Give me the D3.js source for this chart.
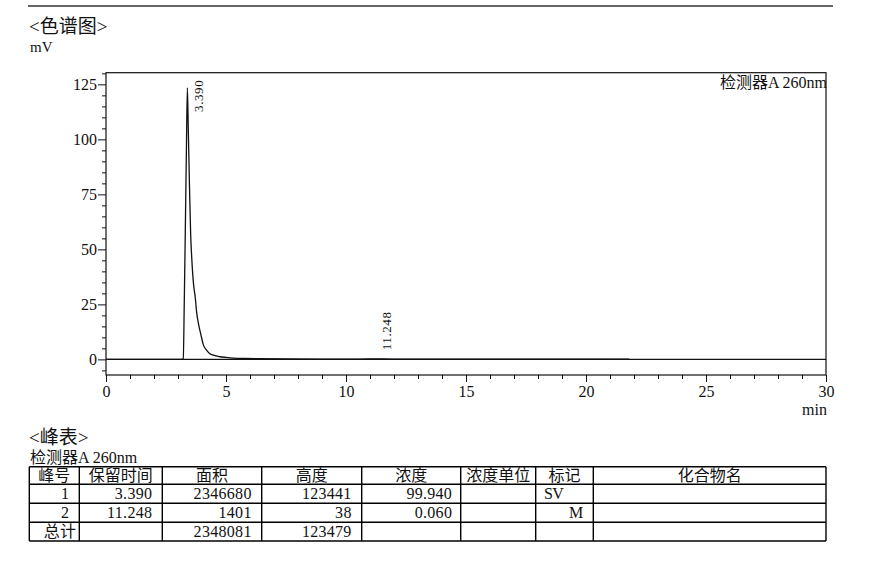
<!DOCTYPE html>
<html>
<head>
<meta charset="utf-8">
<script src="https://cdn.jsdelivr.net/npm/d3@7"></script>
<style>
  html, body { margin: 0; padding: 0; background: #fff; }
  svg { display: block; }
  text { font-family: "Liberation Serif", "Noto Sans CJK SC", serif; fill: #111; }
</style>
</head>
<body>
<svg id="chart" width="879" height="585"></svg>
<script>
// ---------- data ----------
const times  = [0, 1.0, 2.0, 3.0, 3.15, 3.22, 3.26, 3.30, 3.35, 3.39, 3.43, 3.48, 3.53, 3.57, 3.64, 3.72, 3.78, 3.85, 3.92, 3.99, 4.05, 4.19, 4.33, 4.47, 4.75, 5.0, 5.3, 5.8, 6.4, 7.5, 9.0, 10.5, 11.0, 11.248, 11.5, 12.0, 14.0, 17.0, 20.0, 21.8];
const signal = [0, 0, 0, 0, 0.02, 0.3, 25, 55, 95, 123.4, 104, 78, 56, 46.7, 35, 28, 21, 16.4, 12.8, 9.5, 6.8, 4.2, 2.6, 1.9, 1.2, 0.9, 0.6, 0.4, 0.3, 0.2, 0.15, 0.15, 0.2, 0.25, 0.2, 0.15, 0.12, 0.1, 0.08, 0.05];

const peakTimes   = [3.390, 11.248];
const peakHeights = [123.441, 0.038];
const peakLabels  = ["3.390", "11.248"];

const yMajorTicks = [0, 25, 50, 75, 100, 125];
const xMajorTicks = [0, 5, 10, 15, 20, 25, 30];

const tableHeaders = ["峰号", "保留时间", "面积", "高度", "浓度", "浓度单位", "标记", "化合物名"];
const peakNumbers  = ["1", "2"];
const retTimes     = ["3.390", "11.248"];
const areas        = ["2346680", "1401"];
const heights      = ["123441", "38"];
const concs        = ["99.940", "0.060"];
const concUnits    = ["", ""];
const marks        = ["SV", "   M"];
const compounds    = ["", ""];
const totalLabel   = "总计";
const totalArea    = "2348081";
const totalHeight  = "123479";

// ---------- layout ----------
const svg = d3.select("#chart");
const L = 106, R = 826, T = 72.7, B = 375;

const x = d3.scaleLinear().domain([0, 30]).range([L, R]);
const y = d3.scaleLinear().domain([-7.1, 130.3]).range([B, T]);

// top rule
svg.append("line").attr("x1", 28).attr("x2", 833).attr("y1", 6).attr("y2", 6)
  .attr("stroke", "#666").attr("stroke-width", 2);

// titles
svg.append("text").attr("x", 29).attr("y", 33).style("font-size", "19px").text("<色谱图>");
svg.append("text").attr("x", 30).attr("y", 52).style("font-size", "15px").text("mV");

// y axis
const yMinor = d3.range(-5, 131, 5).filter(v => v % 25 !== 0);
svg.append("g").attr("transform", `translate(${L},0)`)
  .call(d3.axisLeft(y).tickValues(yMinor).tickSize(4).tickFormat(""))
  .call(g => g.select(".domain").remove())
  .call(g => g.selectAll("line").attr("stroke", "#111"));
svg.append("g").attr("transform", `translate(${L},0)`)
  .call(d3.axisLeft(y).tickValues(yMajorTicks).tickSize(8).tickPadding(1))
  .call(g => g.select(".domain").remove())
  .call(g => g.selectAll("line").attr("stroke", "#111"))
  .call(g => g.selectAll("text").style("font-size", "16px")
      .style("font-family", "'Liberation Serif', serif").attr("fill", "#111"));

// x axis
const xMinor = d3.range(0, 31, 1).filter(v => v % 5 !== 0);
svg.append("g").attr("transform", `translate(0,${B})`)
  .call(d3.axisBottom(x).tickValues(xMinor).tickSize(4).tickFormat(""))
  .call(g => g.select(".domain").remove())
  .call(g => g.selectAll("line").attr("stroke", "#111"));
svg.append("g").attr("transform", `translate(0,${B})`)
  .call(d3.axisBottom(x).tickValues(xMajorTicks).tickSize(7).tickPadding(4))
  .call(g => g.select(".domain").remove())
  .call(g => g.selectAll("line").attr("stroke", "#111"))
  .call(g => g.selectAll("text").style("font-size", "16px")
      .style("font-family", "'Liberation Serif', serif").attr("fill", "#111"));

svg.append("text").attr("x", R + 1).attr("y", 415).attr("text-anchor", "end")
  .style("font-size", "16px").text("min");

// zero line
svg.append("line").attr("x1", L).attr("x2", R).attr("y1", y(0)).attr("y2", y(0))
  .attr("stroke", "#111").attr("stroke-width", 1.1);

// chromatogram
const pts = times.map((t, i) => [t, signal[i]]);
svg.append("path").datum(pts)
  .attr("fill", "none").attr("stroke", "#111").attr("stroke-width", 1.3)
  .attr("d", d3.line().x(d => x(d[0])).y(d => y(d[1])).curve(d3.curveMonotoneX));

// frame
svg.append("rect").attr("x", L).attr("y", T).attr("width", R - L).attr("height", B - T)
  .attr("fill", "none").attr("stroke", "#111").attr("stroke-width", 1.2);

// detector label
svg.append("text").attr("x", R + 1).attr("y", 88).attr("text-anchor", "end")
  .style("font-size", "16px").text("检测器A 260nm");

// peak labels
peakLabels.forEach((lab, i) => {
  const px = x(peakTimes[i]) + 15.5;
  const t = svg.append("text").style("font-size", "13px").style("letter-spacing", "0.6px")
    .attr("fill", "#333").text(lab);
  const len = t.node().getComputedTextLength();
  let bottom = y(peakHeights[i]) - 9;
  if (bottom - len < T + 7) bottom = T + 7 + len;
  t.attr("transform", `translate(${px},${bottom}) rotate(-90)`);
});

// ---------- peak table ----------
svg.append("text").attr("x", 29).attr("y", 444).style("font-size", "19px").text("<峰表>");
svg.append("text").attr("x", 30).attr("y", 462.5).style("font-size", "16px").text("检测器A 260nm");

const colEdges = [29.3, 79.3, 162.3, 261.7, 361.7, 460.7, 535.7, 593.3, 826];
const rowEdges = [466.7, 484.3, 503.3, 522.3, 541];

const tbl = svg.append("g");
rowEdges.forEach(r => tbl.append("line").attr("x1", colEdges[0]).attr("x2", colEdges[colEdges.length - 1])
  .attr("y1", r).attr("y2", r).attr("stroke", "#000").attr("stroke-width", 1.4));
colEdges.forEach(c => tbl.append("line").attr("x1", c).attr("x2", c)
  .attr("y1", rowEdges[0]).attr("y2", rowEdges[rowEdges.length - 1]).attr("stroke", "#000").attr("stroke-width", 1.4));

const rowMid = i => (rowEdges[i] + rowEdges[i + 1]) / 2 + 5.5;

tableHeaders.forEach((h, j) => {
  tbl.append("text").attr("x", (colEdges[j] + colEdges[j + 1]) / 2).attr("y", rowMid(0))
    .attr("text-anchor", "middle").style("font-size", "16px").text(h);
});

function cellRight(txt, col, row, pad) {
  tbl.append("text").attr("x", colEdges[col + 1] - pad).attr("y", rowMid(row))
    .attr("text-anchor", "end").style("font-size", "16px").style("letter-spacing", "0.3px").text(txt);
}

const rowsData = [peakNumbers, retTimes, areas, heights, concs];
peakNumbers.forEach((_, i) => {
  rowsData.forEach((arr, j) => cellRight(arr[i], j, i + 1, j === 4 ? 8.5 : 10));
  cellRight(concUnits[i], 5, i + 1, 8);
  cellRight(compounds[i], 7, i + 1, 8);
  // marks as fixed-width field
  const m = tbl.append("text").attr("y", rowMid(i + 1)).style("font-size", "16px");
  marks[i].split("").forEach((ch, k) => {
    if (ch !== " ") m.append("tspan").attr("x", colEdges[6] + 8.3 + k * 8.3).text(ch);
  });
});
cellRight(totalLabel, 0, 3, 3);
cellRight(totalArea, 2, 3, 10);
cellRight(totalHeight, 3, 3, 10);
</script>
</body>
</html>
